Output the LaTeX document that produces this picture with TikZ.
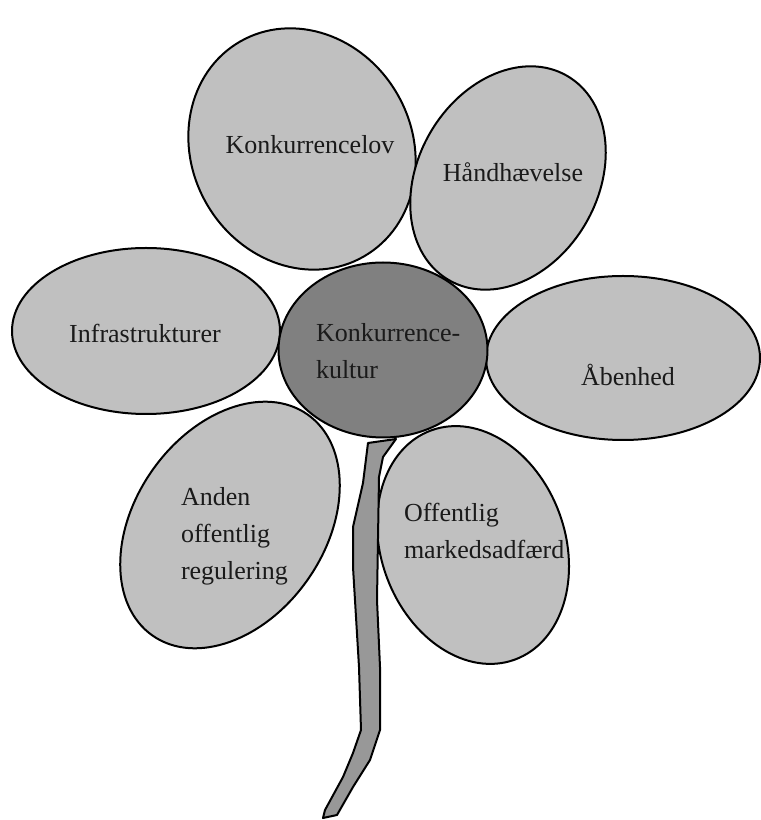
\documentclass[tikz,border=0pt]{standalone}
\usepackage{fontspec}
\setmainfont{Liberation Serif}
\usepackage{tikz}
\definecolor{petalgray}{HTML}{C0C0C0}
\definecolor{heartgray}{HTML}{808080}
\definecolor{stemgray}{HTML}{989898}
\definecolor{ink}{HTML}{1A1A1A}

\begin{document}
\begin{tikzpicture}[x=1pt,y=1pt,line width=2pt,line join=round,
  petal/.style={draw=black,fill=petalgray},
  word/.style={inner sep=0pt,text=ink,font=\fontsize{26}{37}\selectfont}]
\useasboundingbox (0,0) rectangle (761,820);
% petals
\foreach \cx/\cy/\a/\b/\r in {302/671/110/124/30, 508/642/90/118/-30, 146/489/134/83/0,
    623/462/137/82/0, 230/295/95/135/-35, 473/275/92/122/20}{
  \path[petal] (\cx,\cy) ellipse [x radius=\a, y radius=\b, rotate=\r];}
% stem
\filldraw[fill=stemgray] (368,377)--(396,381)--(383,363)--(379,343)--(377,220)--(380,153)
  --(380,90)--(370,60)--(353,33)--(337,5)--(323,2)--(325,10)--(343,43)--(353,67)--(361,90)
  --(359,153)--(353,253)--(353,293)--(363,337)--cycle;
% heart
\filldraw[fill=heartgray] (383,470) ellipse [x radius=104.5, y radius=87.5];
% labels
\node[word,anchor=base] (lov) at (310,666){Konkurrencelov};
\node[word,anchor=base] (haand) at (513,638){Håndhævelse};
\node[word,anchor=base] (infra) at (145,477){Infrastrukturer};
\node[word,anchor=base] (aaben) at (628,434){Åbenhed};
\node[word,anchor=base west,align=left] (anden) at (180,240){Anden\\offentlig\\regulering};
\node[word,anchor=base west,align=left] (marked) at (403,261){Offentlig\\markedsadfærd};
\node[word,anchor=base west,align=left] (kultur) at (315,441){Konkurrence-\\kultur};
\end{tikzpicture}
\end{document}
